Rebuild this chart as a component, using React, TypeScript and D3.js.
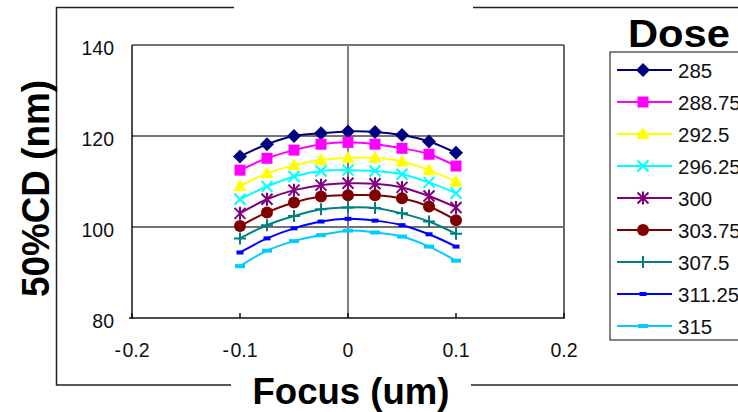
import React from "react";
import * as d3 from "d3";

const focus = [-0.1, -0.075, -0.05, -0.025, 0, 0.025, 0.05, 0.075, 0.1];
const doses = ["285", "288.75", "292.5", "296.25", "300", "303.75", "307.5", "311.25", "315"];
const cd285 = [115.5, 118.2, 120.0, 120.6, 121.0, 120.9, 120.2, 118.8, 116.3];
const cd288 = [112.5, 115.1, 116.9, 118.2, 118.6, 118.2, 117.3, 116.0, 113.4];
const cd292 = [109.0, 111.8, 113.6, 114.7, 115.2, 115.2, 114.4, 112.5, 110.0];
const cd296 = [106.1, 108.9, 111.1, 112.3, 112.5, 112.3, 111.6, 109.8, 107.4];
const cd300 = [103.0, 106.1, 108.1, 109.2, 109.6, 109.5, 108.7, 106.8, 104.3];
const cd303 = [100.2, 103.2, 105.4, 106.7, 107.0, 107.0, 106.3, 104.5, 101.5];
const cd307 = [97.5, 100.4, 102.4, 103.9, 104.3, 104.2, 103.0, 101.2, 98.5];
const cd311 = [94.4, 97.5, 99.7, 101.2, 101.8, 101.4, 100.4, 98.4, 95.7];
const cd315 = [91.4, 94.8, 96.9, 98.2, 99.2, 98.8, 97.9, 95.7, 92.6];
const seriesValues = [cd285, cd288, cd292, cd296, cd300, cd303, cd307, cd311, cd315];
const xTicks = [-0.2, -0.1, 0, 0.1, 0.2];
const xTickLabels = ["-\u200A0.2", "-\u200A0.1", "0", "0.1", "0.2"];
const yTicks = [80, 100, 120, 140];

const colors = ["#000080", "#FF00FF", "#FFFF00", "#00FFFF", "#800080", "#800000", "#008080", "#0000FF", "#00CCFF"];
const markers = ["diamond", "square", "triangle", "x", "star", "circle", "plus", "dash", "bigdash"];

const FONT = "Liberation Sans, Arial, sans-serif";

function Marker({ type, x, y, color }: { type: string; x: number; y: number; color: string }) {
  switch (type) {
    case "diamond":
      return <path d={`M${x},${y - 7}L${x + 7},${y}L${x},${y + 7}L${x - 7},${y}Z`} fill={color} />;
    case "square":
      return <rect x={x - 5.5} y={y - 5.5} width={11} height={11} fill={color} />;
    case "triangle":
      return <path d={`M${x},${y - 7}L${x + 6.5},${y + 5}L${x - 6.5},${y + 5}Z`} fill={color} />;
    case "x":
      return <path d={`M${x - 5.5},${y - 5.5}L${x + 5.5},${y + 5.5}M${x + 5.5},${y - 5.5}L${x - 5.5},${y + 5.5}`} stroke={color} strokeWidth={2} />;
    case "star":
      return (
        <path
          d={`M${x - 5.5},${y - 5.5}L${x + 5.5},${y + 5.5}M${x + 5.5},${y - 5.5}L${x - 5.5},${y + 5.5}M${x},${y - 6.5}L${x},${y + 6.5}`}
          stroke={color}
          strokeWidth={2}
        />
      );
    case "circle":
      return <circle cx={x} cy={y} r={6} fill={color} />;
    case "plus":
      return <path d={`M${x - 6},${y}L${x + 6},${y}M${x},${y - 6}L${x},${y + 6}`} stroke={color} strokeWidth={2} />;
    case "dash":
      return <rect x={x - 3.5} y={y - 2} width={7} height={4} fill={color} />;
    case "bigdash":
      return <rect x={x - 5} y={y - 2} width={10} height={4} fill={color} />;
    default:
      return null;
  }
}

export default function App() {
  const W = 738,
    H = 412;
  const x = d3.scaleLinear().domain([-0.2, 0.2]).range([132, 564]);
  const y = d3.scaleLinear().domain([80, 140]).range([318, 45]);
  const line = d3
    .line<number>()
    .x((_, i) => x(focus[i]))
    .y((d) => y(d))
    .curve(d3.curveCatmullRom.alpha(0.5));

  const legX = 610,
    legY = 52;

  return (
    <svg width={W} height={H} style={{ position: "absolute", left: 0, top: 0, background: "#fff" }} fontFamily={FONT}>
      <rect x={0} y={0} width={W} height={H} fill="#fff" />
      {/* outer frame */}
      <g stroke="#222" strokeWidth={1.5} fill="none">
        <path d="M234,7.5H56.5V385H231" />
        <path d="M473,7.5H738" />
        <path d="M471,385H738" />
      </g>
      {/* gridlines */}
      <g stroke="#444" strokeWidth={1.3}>
        {yTicks.slice(1).map((t) => (
          <line key={t} x1={x(-0.2)} x2={x(0.2)} y1={y(t)} y2={y(t)} />
        ))}
        <line x1={x(0.2)} x2={x(0.2)} y1={y(140)} y2={y(80)} stroke="#666" strokeWidth={2} />
      </g>
      <line x1={x(0)} x2={x(0)} y1={y(140)} y2={y(80)} stroke="#808080" strokeWidth={2} />
      {/* axes */}
      <g stroke="#111" strokeWidth={1.5}>
        <line x1={x(-0.2)} x2={x(-0.2)} y1={y(140)} y2={y(80) + 1} />
        <line x1={x(-0.2) - 3} x2={x(0.2) + 1} y1={y(80)} y2={y(80)} />
        {xTicks.map((t) => (
          <line key={t} x1={x(t)} x2={x(t)} y1={y(80)} y2={y(80) - 5} />
        ))}
      </g>
      {/* tick labels */}
      <g fontSize={19.5} fill="#111">
        {yTicks.map((t) => (
          <text key={t} x={114} y={y(t) + 10} textAnchor="end">
            {t}
          </text>
        ))}
        {xTicks.map((t, i) => (
          <text key={t} x={x(t)} y={357} textAnchor="middle">
            {xTickLabels[i]}
          </text>
        ))}
      </g>
      {/* series */}
      {seriesValues.map((vals, si) => (
        <g key={doses[si]}>
          <path d={line(vals) || ""} fill="none" stroke={colors[si]} strokeWidth={2} />
          {vals.map((v, i) => (
            <Marker key={i} type={markers[si]} x={x(focus[i])} y={y(v)} color={colors[si]} />
          ))}
        </g>
      ))}
      {/* axis titles */}
      <text x={351} y={404} textAnchor="middle" fontSize={37} fontWeight="bold" textLength={197} lengthAdjust="spacingAndGlyphs">
        Focus (um)
      </text>
      <text
        transform="translate(49,188.5) rotate(-90)"
        textAnchor="middle"
        fontSize={38}
        fontWeight="bold"
        textLength={217}
        lengthAdjust="spacingAndGlyphs"
      >
        50%CD (nm)
      </text>
      {/* legend */}
      <text x={679} y={47} textAnchor="middle" fontSize={38} fontWeight="bold" textLength={102} lengthAdjust="spacingAndGlyphs">
        Dose
      </text>
      <rect x={legX} y={legY} width={140} height={288} fill="#fff" stroke="#333" strokeWidth={1.2} />
      {doses.map((d, i) => {
        const ly = 70 + i * 32;
        return (
          <g key={d}>
            <line x1={617} x2={672} y1={ly} y2={ly} stroke={colors[i]} strokeWidth={2} />
            <Marker type={markers[i]} x={643} y={ly} color={colors[i]} />
            <text x={678} y={ly + 7.5} fontSize={20.5} fill="#111">
              {d}
            </text>
          </g>
        );
      })}
    </svg>
  );
}
